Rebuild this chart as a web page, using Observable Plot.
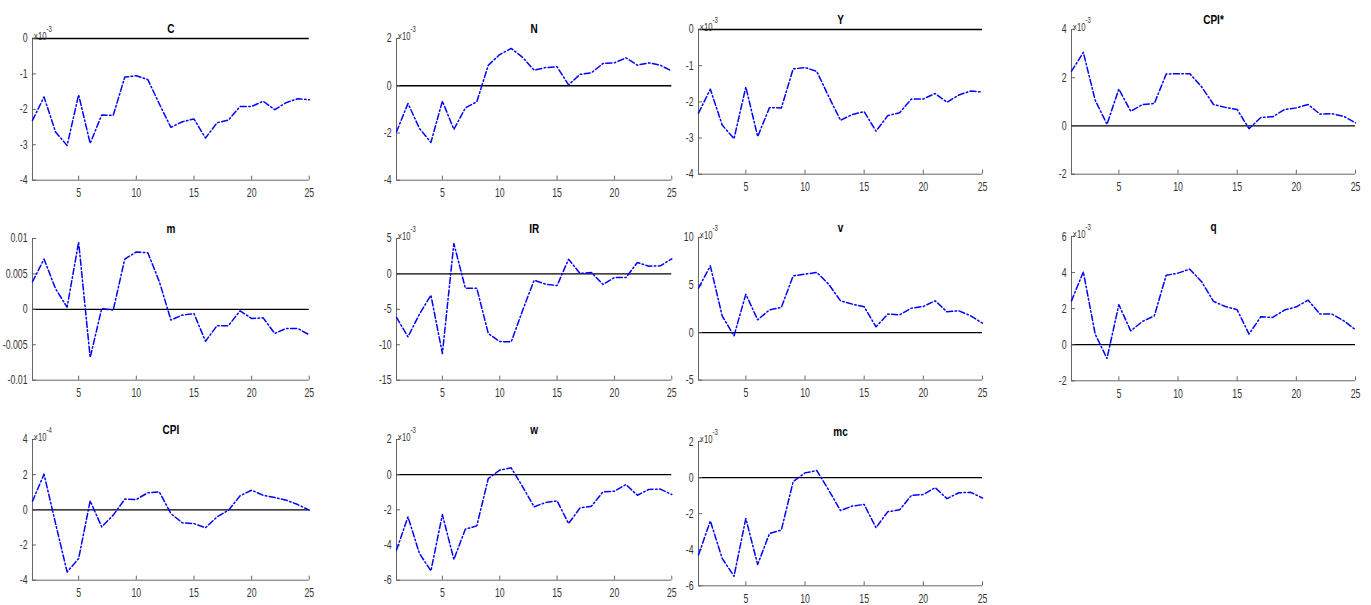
<!DOCTYPE html>
<html><head><meta charset="utf-8">
<script src="https://cdn.jsdelivr.net/npm/d3@7"></script>
<script src="https://cdn.jsdelivr.net/npm/@observablehq/plot@0.6"></script>
<style>
body{margin:0;background:#fff;}
#wrap{position:relative;width:1371px;height:605px;overflow:hidden;background:#fff;}
#wrap svg{position:absolute;overflow:visible;}
</style></head><body><div id="wrap"></div>
<script>
// ---- data ----
const periods = d3.range(1, 26);
const xTicks = [5, 10, 15, 20, 25];
const titles = ["C", "N", "Y", "CPI*", "m", "IR", "v", "q", "CPI", "w", "mc"];
const C = [-2.31,-1.65,-2.64,-3.02,-1.59,-2.96,-2.16,-2.17,-1.09,-1.05,-1.16,-1.85,-2.51,-2.35,-2.27,-2.81,-2.38,-2.30,-1.92,-1.92,-1.77,-2.01,-1.81,-1.70,-1.73];
const N = [-1.95,-0.75,-1.81,-2.40,-0.65,-1.85,-0.94,-0.68,0.87,1.32,1.58,1.20,0.66,0.77,0.80,0.04,0.48,0.55,0.94,0.97,1.18,0.87,0.97,0.87,0.62];
const Y = [-2.31,-1.65,-2.64,-3.02,-1.59,-2.96,-2.16,-2.17,-1.09,-1.05,-1.16,-1.85,-2.51,-2.35,-2.27,-2.81,-2.38,-2.30,-1.92,-1.92,-1.77,-2.01,-1.81,-1.70,-1.73];
const CPIstar = [2.27,3.05,1.07,0.07,1.53,0.61,0.89,0.93,2.15,2.17,2.17,1.62,0.89,0.77,0.68,-0.11,0.35,0.38,0.68,0.75,0.89,0.49,0.51,0.40,0.13];
const m = [0.0039,0.0071,0.0029,0.0003,0.0095,-0.0068,0.0001,-0.0001,0.0071,0.0081,0.0080,0.0039,-0.0015,-0.0008,-0.0006,-0.0045,-0.0023,-0.0023,-0.0002,-0.0013,-0.0012,-0.0034,-0.0027,-0.0027,-0.0036];
const IR = [-6.15,-8.88,-5.68,-3.0,-11.24,4.29,-2.01,-2.01,-8.41,-9.54,-9.59,-5.12,-0.88,-1.45,-1.64,2.08,0.06,0.2,-1.49,-0.51,-0.51,1.61,1.09,1.14,2.13];
const v = [4.67,7.02,1.76,-0.34,4.04,1.34,2.39,2.64,5.97,6.14,6.32,5.09,3.34,2.99,2.71,0.61,1.94,1.87,2.57,2.74,3.34,2.18,2.29,1.76,0.99];
const q = [2.43,4.04,0.59,-0.76,2.22,0.77,1.29,1.60,3.85,3.97,4.19,3.49,2.40,2.12,1.94,0.59,1.55,1.51,1.92,2.10,2.47,1.70,1.70,1.33,0.83];
const CPI = [0.49,2.03,-0.78,-3.53,-2.77,0.51,-0.97,-0.30,0.61,0.59,0.97,1.02,-0.21,-0.74,-0.78,-1.02,-0.40,-0.02,0.80,1.12,0.83,0.70,0.55,0.30,-0.02];
const w = [-4.29,-2.40,-4.48,-5.47,-2.27,-4.82,-3.10,-2.91,-0.22,0.26,0.39,-0.69,-1.83,-1.58,-1.49,-2.78,-1.89,-1.79,-0.98,-0.94,-0.56,-1.17,-0.84,-0.82,-1.13];
const mc = [-4.29,-2.40,-4.48,-5.47,-2.27,-4.82,-3.10,-2.91,-0.22,0.26,0.39,-0.69,-1.83,-1.58,-1.49,-2.78,-1.89,-1.79,-0.98,-0.94,-0.56,-1.17,-0.84,-0.82,-1.13];
const series = [C, N, Y, CPIstar, m, IR, v, q, CPI, w, mc];
const yDomains = [[-4,0],[-4,2],[-4,0],[-2,4],[-0.01,0.01],[-15,5],[-5,10],[-2,6],[-4,4],[-6,2],[-6,2]];
const yTicks = [
  [-4,-3,-2,-1,0],[-4,-2,0,2],[-4,-3,-2,-1,0],[-2,0,2,4],
  [-0.01,-0.005,0,0.005,0.01],[-15,-10,-5,0,5],[-5,0,5,10],[-2,0,2,4,6],
  [-4,-2,0,2,4],[-6,-4,-2,0,2],[-6,-4,-2,0,2]
];
const exponents = ["-3","-3","-3","-3",null,"-3","-3","-3","-4","-3","-3"];

// ---- layout (plot-area boxes in page pixels) ----
const boxes = [
  [31.5,38.3,308.3,180],[395.7,38.3,671,180],[698.3,29.3,982.3,174],[1071,29.3,1355,174],
  [31.5,238.3,308.3,380],[395.7,238.3,671,380],[698.3,236.7,982.3,379.3],[1071,235.7,1355,380],
  [31.5,439.3,308.3,580],[395.7,439.3,671,580],[698.3,440.7,982.3,585]
];
const ML = 50, MR = 15, MT = 35, MB = 25;
const FONT = '"Liberation Sans",Arial,sans-serif';
const axisColor = "#555";
const textColor = "#333";

// horizontally condense a text element around its own anchor point
function condense(el, s) {
  const t = el.getAttribute("transform") || "";
  const X = parseFloat(el.getAttribute("x")) || 0;
  el.setAttribute("transform", `${t} translate(${X},0) scale(${s},1) translate(${-X},0)`);
}

const wrap = document.getElementById("wrap");
titles.forEach((title, i) => {
  const [l, t, r, b] = boxes[i];
  const pw = r - l, ph = b - t;
  const rows = periods.map((p, k) => ({t: p, v: series[i][k]}));
  const marks = [
    Plot.ruleY([0], {stroke: "black", strokeWidth: 1.3}),
    Plot.ruleX([1], {stroke: axisColor, strokeWidth: 0.9}),
    Plot.ruleY([yDomains[i][0]], {stroke: axisColor, strokeWidth: 0.9}),
    Plot.tickX(xTicks, {x: d => d, insetTop: ph - 4, stroke: axisColor, strokeWidth: 0.9}),
    Plot.tickY(yTicks[i], {y: d => d, insetRight: pw - 4, stroke: axisColor, strokeWidth: 0.9}),
    Plot.axisX({ticks: xTicks, tickSize: 0, tickPadding: 8, tickFormat: d => String(d), label: null, fill: textColor, fontSize: 12.5}),
    Plot.axisY({ticks: yTicks[i], tickSize: 0, tickPadding: 5, tickFormat: d => String(d), label: null, fill: textColor, fontSize: 12.5}),
    Plot.line(rows, {x: "t", y: "v", stroke: "#0000ff", strokeWidth: 1.5, strokeDasharray: "6,2.5,1.5,2.5"}),
    Plot.text([title], {frameAnchor: "top", dy: -14, fontWeight: "bold", fontSize: 12.5, fill: "#000"})
  ];
  if (exponents[i]) {
    marks.push(Plot.text(["\u00d710"], {frameAnchor: "top-left", dx: 1, dy: -6.5, textAnchor: "start", fontSize: 11, fill: textColor}));
    marks.push(Plot.text([exponents[i]], {frameAnchor: "top-left", dx: 14, dy: -13, textAnchor: "start", fontSize: 8.5, fill: textColor}));
  }
  const svg = Plot.plot({
    width: pw + ML + MR,
    height: ph + MT + MB,
    marginLeft: ML, marginRight: MR, marginTop: MT, marginBottom: MB,
    x: {domain: [1, 25]},
    y: {domain: yDomains[i]},
    style: {fontFamily: FONT, fontSize: "12px", background: "transparent", overflow: "visible"},
    marks
  });
  svg.style.left = (l - ML) + "px";
  svg.style.top = (t - MT) + "px";
  wrap.appendChild(svg);
  svg.querySelectorAll("text").forEach(el => {
    const bold = el.closest("[font-weight]");
    condense(el, bold ? 0.8 : 0.7);
  });
});
</script></body></html>
